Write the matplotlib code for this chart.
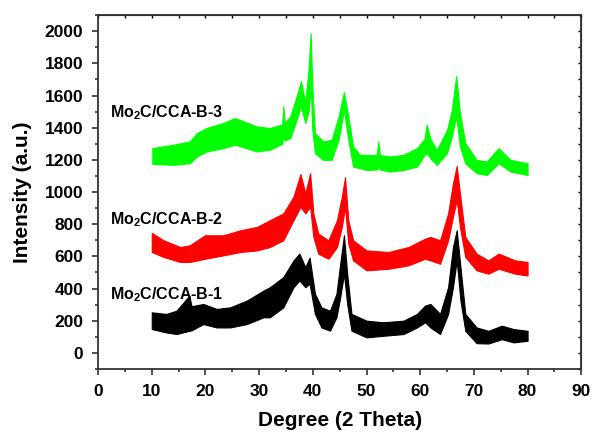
import matplotlib
matplotlib.use("Agg")
import matplotlib.pyplot as plt
from matplotlib.ticker import MultipleLocator

plt.rcParams['font.family'] = ['Liberation Sans', 'DejaVu Sans']
plt.rcParams['font.weight'] = 'bold'
plt.rcParams['mathtext.fontset'] = 'custom'
plt.rcParams['mathtext.rm'] = 'Liberation Sans:bold'
plt.rcParams['mathtext.default'] = 'rm'

# values: noise band top / bottom at each angle
deg_b3 = [10.1, 14.0, 17.1, 18.4, 20.2, 23.3, 25.5, 29.6, 32.0, 34.3, 34.5, 34.8, 35.8, 37.0,
          37.8, 38.6, 39.2, 39.6, 39.9, 40.4, 41.9, 43.5, 44.8, 45.8, 46.6, 47.5, 48.8, 50.0,
          51.9, 52.2, 52.5, 54.4, 56.9, 59.4, 60.8, 61.2, 61.9, 63.1, 65.0, 65.9, 66.7, 67.4,
          68.4, 70.5, 72.4, 74.6, 76.8, 80.0]
top_b3 = [1273, 1294, 1315, 1367, 1398, 1429, 1460, 1408, 1398, 1420, 1533, 1430, 1471, 1596,
          1690, 1554, 1763, 1987, 1658, 1367, 1315, 1325, 1471, 1621, 1471, 1283, 1231, 1231,
          1230, 1315, 1230, 1221, 1231, 1273, 1330, 1419, 1330, 1262, 1387, 1512, 1721, 1492,
          1304, 1200, 1190, 1273, 1200, 1179]
low_b3 = [1175, 1169, 1179, 1221, 1252, 1273, 1294, 1252, 1263, 1300, 1346, 1320, 1335, 1450,
          1533, 1429, 1500, 1658, 1388, 1242, 1200, 1200, 1325, 1512, 1325, 1158, 1148, 1137,
          1140, 1158, 1140, 1127, 1137, 1158, 1230, 1242, 1210, 1169, 1242, 1346, 1471, 1283,
          1179, 1117, 1106, 1179, 1127, 1106]

deg_b2 = [10.0, 12.2, 15.3, 17.1, 19.9, 23.3, 26.5, 29.6, 32.0, 34.5, 36.4, 37.7, 38.6, 39.5,
          40.1, 41.0, 42.9, 44.5, 45.4, 46.0, 46.6, 47.5, 50.0, 54.1, 57.8, 60.9, 61.9, 63.7,
          65.2, 66.1, 66.8, 67.4, 68.4, 70.5, 72.7, 74.6, 77.7, 80.0]
top_b2 = [746, 700, 658, 669, 731, 731, 762, 783, 825, 867, 971, 1112, 992, 1117,
          867, 742, 700, 825, 971, 1092, 825, 700, 637, 627, 658, 710, 721, 700,
          867, 1054, 1162, 992, 721, 617, 575, 617, 575, 565]
low_b2 = [627, 596, 565, 565, 585, 606, 627, 637, 658, 700, 825, 908, 867, 908,
          721, 617, 585, 658, 783, 908, 680, 575, 513, 523, 544, 585, 575, 554,
          700, 846, 950, 783, 596, 513, 492, 523, 492, 481]

deg_b1 = [10.0, 12.7, 14.6, 17.0, 17.4, 19.6, 22.1, 24.6, 27.7, 30.8, 32.0, 34.5, 36.4, 37.5,
          38.6, 39.4, 40.4, 41.6, 43.2, 44.4, 45.1, 45.8, 46.4, 47.2, 50.0, 53.1, 56.9, 59.4,
          60.9, 61.9, 63.7, 65.2, 66.1, 66.8, 67.5, 68.4, 70.5, 72.7, 75.2, 77.4, 80.0]
top_b1 = [252, 242, 262, 356, 290, 304, 273, 283, 325, 387, 408, 471, 575, 617,
          533, 592, 367, 283, 262, 367, 554, 731, 492, 242, 200, 190, 200, 242,
          294, 304, 242, 408, 658, 762, 533, 242, 158, 137, 169, 148, 137]
low_b1 = [148, 127, 117, 137, 140, 179, 158, 158, 179, 221, 221, 283, 408, 450,
          408, 429, 242, 158, 138, 221, 346, 492, 304, 138, 96, 106, 117, 158,
          190, 158, 117, 242, 408, 575, 325, 137, 60, 58, 85, 65, 75]

names = ['Mo$_2$C/CCA-B-1', 'Mo$_2$C/CCA-B-2', 'Mo$_2$C/CCA-B-3']
label_y = [362, 831, 1494]

fig = plt.figure(figsize=(5.98, 4.32), dpi=100)
ax = fig.add_axes([0.164, 0.146, 0.808, 0.819])

for x, hi, lo, c in [(deg_b1, top_b1, low_b1, 'black'),
                     (deg_b2, top_b2, low_b2, '#ff0000'),
                     (deg_b3, top_b3, low_b3, '#00ff00')]:
    ax.fill_between(x, lo, hi, color=c, linewidth=0.8)

for name, y in zip(names, label_y):
    ax.text(2.2, y, name, fontsize=11.5, fontweight='bold', va='center', ha='left')

ax.set_xlim(0, 90)
ax.set_ylim(-100, 2100)
ax.xaxis.set_major_locator(MultipleLocator(10))
ax.xaxis.set_minor_locator(MultipleLocator(5))
ax.yaxis.set_minor_locator(MultipleLocator(100))
ax.set_yticks(range(0, 2001, 200))

ax.tick_params(which='both', direction='out', width=1.2, color='#333333',
               labelsize=12.5, top=False, right=False, pad=6)
ax.tick_params(which='major', length=4.5)
ax.tick_params(which='minor', length=2.5)
for lab in ax.get_xticklabels() + ax.get_yticklabels():
    lab.set_fontweight('bold')

# small inward ticks on top and right
sec_x = ax.secondary_xaxis('top')
sec_x.xaxis.set_major_locator(MultipleLocator(5))
sec_x.tick_params(direction='in', length=2, width=1, labeltop=False)
sec_y = ax.secondary_yaxis('right')
sec_y.yaxis.set_major_locator(MultipleLocator(100))
sec_y.tick_params(direction='in', length=2, width=1, labelright=False)

for sp in ax.spines.values():
    sp.set_linewidth(1.3)
    sp.set_color('#333333')

ax.set_xlabel('Degree (2 Theta)', fontsize=15, fontweight='bold', labelpad=9)
ax.set_ylabel('Intensity (a.u.)', fontsize=15, fontweight='bold', labelpad=9)

fig.savefig('out.png', dpi=100)
